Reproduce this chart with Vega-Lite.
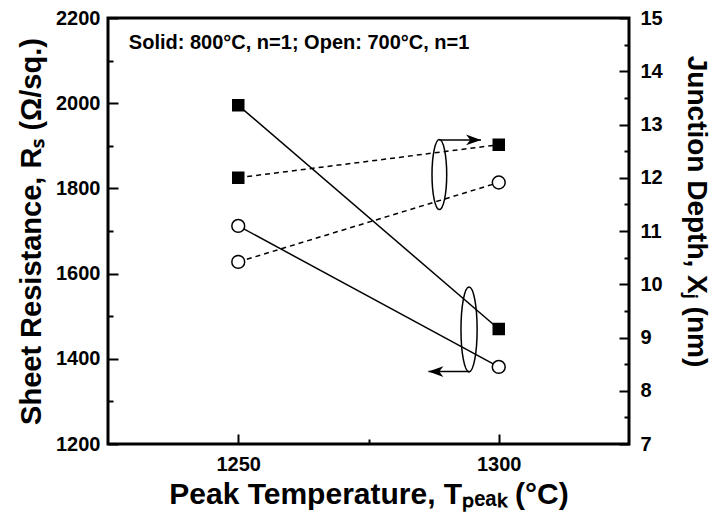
{
  "$schema": "https://vega.github.io/schema/vega-lite/v6.json",
  "width": 521,
  "height": 426,
  "autosize": "none",
  "padding": {"left": 108, "top": 18, "right": 90, "bottom": 79},
  "config": {
    "view": {"stroke": "black", "strokeWidth": 3},
    "font": "Liberation Sans",
    "axis": {
      "domain": false,
      "grid": false,
      "tickColor": "black",
      "tickWidth": 2,
      "labelColor": "black",
      "labelFont": "Liberation Sans",
      "labelFontWeight": "bold",
      "labelFontSize": 20,
      "labelFlush": false,
      "titleColor": "black",
      "titleFont": "Liberation Sans",
      "titleFontWeight": "bold",
      "titleFontSize": 29
    }
  },
  "datasets": {
    "rs": [
      {"T": 1250, "Rs": 1995, "anneal": "800"},
      {"T": 1300, "Rs": 1470, "anneal": "800"},
      {"T": 1250, "Rs": 1712, "anneal": "700"},
      {"T": 1300, "Rs": 1381, "anneal": "700"}
    ],
    "xj": [
      {"T": 1250, "Xj": 12.0, "anneal": "800"},
      {"T": 1300, "Xj": 12.62, "anneal": "800"},
      {"T": 1250, "Xj": 10.42, "anneal": "700"},
      {"T": 1300, "Xj": 11.91, "anneal": "700"}
    ],
    "note": [{"T": 1229, "Rs": 2142, "text": "Solid: 800°C, n=1; Open: 700°C, n=1"}],
    "ellR": [{"T": 1288.6, "Xj": 12.06}],
    "arrR": [{"T": 1288.6, "T2": 1296.6, "Xj": 12.71}],
    "ellL": [{"T": 1294.3, "Rs": 1469}],
    "arrL": [{"T": 1294.3, "T2": 1286.5, "Rs": 1370}]
  },
  "layer": [
    {
      "resolve": {"axis": {"x": "independent", "y": "independent"}},
      "layer": [
        {
          "data": {"name": "rs"},
          "mark": {"type": "line", "color": "black", "strokeWidth": 1.5},
          "encoding": {
            "x": {
              "field": "T", "type": "quantitative",
              "scale": {"domain": [1225, 1325], "nice": false, "zero": false},
              "axis": {
                "orient": "bottom",
                "offset": -10,
                "title": "Peak Temperature, Tₚₑₐₖ (°C)",
                "titleFontSize": 30,
                "titleFontWeight": "bold",
                "titleColor": "black",
                "values": [1250, 1300],
                "format": "d",
                "labelColor": "black",
                "labelFontWeight": "bold",
                "labelFontSize": 20,
                "tickColor": "black",
                "tickWidth": 2,
                "tickSize": 10,
                "labelPadding": 10,
                "titlePadding": 5
              }
            },
            "y": {
              "field": "Rs", "type": "quantitative",
              "scale": {"domain": [1200, 2200], "nice": false, "zero": false},
              "axis": {
                "orient": "left",
                "offset": -10,
                "title": "Sheet Resistance, Rₛ (Ω/sq.)",
                "titleFontWeight": "bold",
                "titleColor": "black",
                "values": [1200, 1400, 1600, 1800, 2000, 2200],
                "format": "d",
                "labelColor": "black",
                "labelFontWeight": "bold",
                "labelFontSize": 20,
                "tickColor": "black",
                "tickWidth": 2,
                "tickSize": 10,
                "labelPadding": 8,
                "titlePadding": 9
              }
            },
            "detail": {"field": "anneal"}
          }
        },
        {
          "data": {"name": "rs"},
          "mark": {"type": "point", "filled": true, "opacity": 1, "stroke": "black", "strokeWidth": 1.5},
          "encoding": {
            "x": {
              "field": "T", "type": "quantitative",
              "axis": {"orient": "bottom", "offset": -5, "values": [1275], "labels": false, "title": null, "tickSize": 5, "tickWidth": 2, "tickColor": "black"}
            },
            "y": {
              "field": "Rs", "type": "quantitative",
              "axis": {"orient": "left", "offset": -5, "values": [1300, 1500, 1700, 1900, 2100], "labels": false, "title": null, "tickSize": 5, "tickWidth": 2, "tickColor": "black"}
            },
            "shape": {"field": "anneal", "scale": {"domain": ["800", "700"], "range": ["square", "circle"]}, "legend": null},
            "fill": {"field": "anneal", "scale": {"domain": ["800", "700"], "range": ["black", "white"]}, "legend": null},
            "size": {"field": "anneal", "scale": {"domain": ["800", "700"], "range": [121, 165]}, "legend": null}
          }
        },
        {
          "data": {"name": "note"},
          "mark": {"type": "text", "align": "left", "baseline": "middle", "fontSize": 20, "fontWeight": "bold", "font": "Liberation Sans", "color": "black"},
          "encoding": {
            "x": {"field": "T", "type": "quantitative", "axis": null},
            "y": {"field": "Rs", "type": "quantitative", "axis": null},
            "text": {"field": "text"}
          }
        },
        {
          "data": {"name": "ellL"},
          "mark": {"type": "point", "shape": "M0,-1A0.19,1,0,1,1,0,1A0.19,1,0,1,1,0,-1Z", "size": 7225, "stroke": "black", "strokeWidth": 1.5, "fill": null, "opacity": 1},
          "encoding": {
            "x": {"field": "T", "type": "quantitative", "axis": null},
            "y": {"field": "Rs", "type": "quantitative", "axis": null}
          }
        },
        {
          "data": {"name": "arrL"},
          "mark": {"type": "rule", "color": "black", "strokeWidth": 1.5},
          "encoding": {
            "x": {"field": "T", "type": "quantitative", "axis": null},
            "x2": {"field": "T2"},
            "y": {"field": "Rs", "type": "quantitative", "axis": null}
          }
        },
        {
          "data": {"name": "arrL"},
          "mark": {"type": "point", "shape": "M0,0L1,-0.36L0.72,0L1,0.36Z", "size": 900, "filled": true, "color": "black", "opacity": 1},
          "encoding": {
            "x": {"field": "T2", "type": "quantitative", "axis": null},
            "y": {"field": "Rs", "type": "quantitative", "axis": null}
          }
        }
      ]
    },
    {
      "resolve": {"axis": {"y": "independent"}},
      "layer": [
        {
          "data": {"name": "xj"},
          "mark": {"type": "line", "color": "black", "strokeWidth": 1.5, "strokeDash": [5, 4]},
          "encoding": {
            "x": {"field": "T", "type": "quantitative", "axis": null},
            "y": {
              "field": "Xj", "type": "quantitative",
              "scale": {"domain": [7, 15], "nice": false, "zero": false},
              "axis": {
                "orient": "right",
                "offset": -10,
                "title": "Junction Depth, Xⱼ (nm)",
                "titleFontSize": 28,
                "titleFontWeight": "bold",
                "titleColor": "black",
                "titleY": 193,
                "values": [7, 8, 9, 10, 11, 12, 13, 14, 15],
                "format": "d",
                "labelColor": "black",
                "labelFontWeight": "bold",
                "labelFontSize": 20,
                "tickColor": "black",
                "tickWidth": 2,
                "tickSize": 10,
                "labelPadding": 11,
                "titlePadding": 19
              }
            },
            "detail": {"field": "anneal"}
          }
        },
        {
          "data": {"name": "xj"},
          "mark": {"type": "point", "filled": true, "opacity": 1, "stroke": "black", "strokeWidth": 1.5},
          "encoding": {
            "x": {"field": "T", "type": "quantitative", "axis": null},
            "y": {
              "field": "Xj", "type": "quantitative",
              "axis": {"orient": "right", "offset": -5, "values": [7.5, 8.5, 9.5, 10.5, 11.5, 12.5, 13.5, 14.5], "labels": false, "title": null, "tickSize": 5, "tickWidth": 2, "tickColor": "black"}
            },
            "shape": {"field": "anneal", "scale": {"domain": ["800", "700"], "range": ["square", "circle"]}, "legend": null},
            "fill": {"field": "anneal", "scale": {"domain": ["800", "700"], "range": ["black", "white"]}, "legend": null},
            "size": {"field": "anneal", "scale": {"domain": ["800", "700"], "range": [121, 165]}, "legend": null}
          }
        },
        {
          "data": {"name": "ellR"},
          "mark": {"type": "point", "shape": "M0,-1A0.21,1,0,1,1,0,1A0.21,1,0,1,1,0,-1Z", "size": 4900, "stroke": "black", "strokeWidth": 1.5, "fill": null, "opacity": 1},
          "encoding": {
            "x": {"field": "T", "type": "quantitative", "axis": null},
            "y": {"field": "Xj", "type": "quantitative", "axis": null}
          }
        },
        {
          "data": {"name": "arrR"},
          "mark": {"type": "rule", "color": "black", "strokeWidth": 1.5},
          "encoding": {
            "x": {"field": "T", "type": "quantitative", "axis": null},
            "x2": {"field": "T2"},
            "y": {"field": "Xj", "type": "quantitative", "axis": null}
          }
        },
        {
          "data": {"name": "arrR"},
          "mark": {"type": "point", "shape": "M0,0L-1,-0.36L-0.72,0L-1,0.36Z", "size": 900, "filled": true, "color": "black", "opacity": 1},
          "encoding": {
            "x": {"field": "T2", "type": "quantitative", "axis": null},
            "y": {"field": "Xj", "type": "quantitative", "axis": null}
          }
        }
      ]
    }
  ],
  "resolve": {"scale": {"y": "independent"}}
}
